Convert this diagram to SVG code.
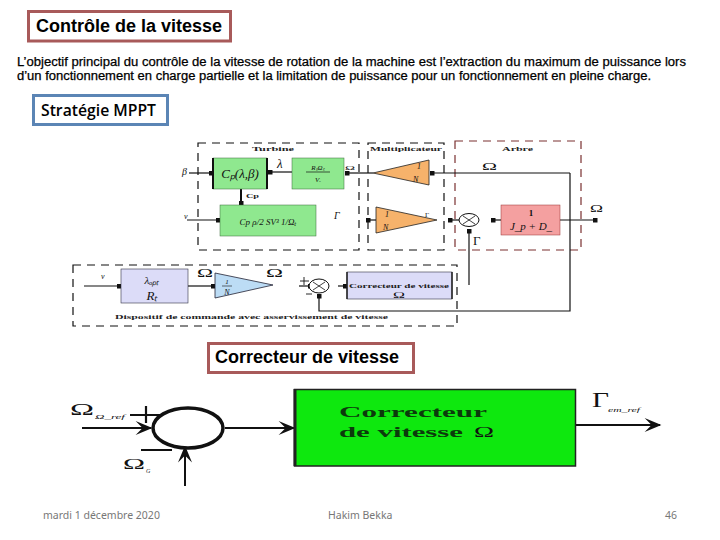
<svg xmlns="http://www.w3.org/2000/svg" width="720" height="540" viewBox="0 0 720 540">
<style>
.c{fill:none;stroke:#111;stroke-width:1.2}
.t{fill:none;stroke:#111;stroke-width:2}
.d{fill:none;stroke:#111;stroke-width:1.2;stroke-dasharray:8 6}
.dr{fill:none;stroke:#7a3030;stroke-width:1.2;stroke-dasharray:8 6}
.s{font-family:"Liberation Serif",serif;fill:#111}
.b{font-family:"Liberation Serif",serif;font-weight:bold;fill:#222;font-size:7px}
.i{font-style:italic}
.h{font-family:"Liberation Sans",Arial,sans-serif;font-weight:bold;fill:#000;font-size:18px}
.p{font-family:"Liberation Sans",Arial,sans-serif;fill:#000;stroke:#000;stroke-width:.25;font-size:12.300px}
.f{font-family:"Noto Sans",sans-serif;fill:#777;font-size:10.500px}
.g{fill:#8fe88f;stroke:#3a6a3a;stroke-width:.5}
.v{fill:#dcdcf8;stroke:#334;stroke-width:.6}
.o{fill:#f6b26b;stroke:#222;stroke-width:.8}
</style>
<defs>
<marker id="a" viewBox="0 0 10 10" refX="9" refY="5" markerWidth="5" markerHeight="5" markerUnits="userSpaceOnUse" orient="auto"><path d="M0 0H10V10H0Z" fill="#111"/></marker>
<marker id="b" viewBox="0 0 12 10" refX="11" refY="5" markerWidth="24" markerHeight="14" markerUnits="userSpaceOnUse" orient="auto"><path d="M0 0L12 5L0 10L5 5Z" fill="#111"/></marker>
</defs>
<rect width="720" height="540" fill="#fff"/>

<g id="title"><rect x="28.500" y="11.500" width="202" height="29.500" fill="#fff" stroke="#a85a5a" stroke-width="3"/><text class="h" x="36" y="32" textLength="186" lengthAdjust="spacingAndGlyphs">Contrôle de la vitesse</text></g>
<g id="intro"><text class="p" x="17" y="66" textLength="669" lengthAdjust="spacingAndGlyphs">L’objectif principal du contrôle de la vitesse de rotation de la machine est l’extraction du maximum de puissance lors</text><text class="p" x="17" y="80" textLength="634" lengthAdjust="spacingAndGlyphs">d’un fonctionnement en charge partielle et la limitation de puissance pour un fonctionnement en pleine charge.</text></g>
<g id="mppt"><rect x="33.500" y="95.500" width="134" height="29" fill="#fff" stroke="#5b85b5" stroke-width="3"/><text x="41" y="116" style="font-family:'Open Sans',sans-serif;font-weight:600;font-size:15.500px" fill="#000" textLength="115" lengthAdjust="spacingAndGlyphs">Stratégie MPPT</text></g>
<g id="correcteur-title"><rect x="208.500" y="343.500" width="205" height="29" fill="#fff" stroke="#a85a5a" stroke-width="3"/><text class="h" x="215" y="363" textLength="184" lengthAdjust="spacingAndGlyphs">Correcteur de vitesse</text></g>

<g id="zones">
<rect class="d" x="198" y="143" width="161" height="107"/><text class="b" x="252" y="151" textLength="42" lengthAdjust="spacingAndGlyphs">Turbine</text>
<rect class="d" x="368" y="143" width="76" height="107"/><text class="b" x="370" y="151" textLength="72" lengthAdjust="spacingAndGlyphs">Multiplicateur</text>
<rect class="dr" x="455" y="141" width="126" height="109"/><text class="b" x="502" y="151" textLength="31" lengthAdjust="spacingAndGlyphs">Arbre</text>
<rect class="d" x="73" y="265" width="384" height="61"/><text class="b" x="115" y="319" textLength="273" lengthAdjust="spacingAndGlyphs">Dispositif de commande avec asservissement de vitesse</text>
</g>

<g id="connectors">
<path class="c" d="M189 173H213" marker-end="url(#a)"/>
<path class="c" d="M292 172H268" marker-end="url(#a)"/>
<path class="c" d="M373 173H345" marker-end="url(#a)"/>
<path class="t" d="M241 189V205" marker-end="url(#a)"/>
<path class="c" d="M187 220H220" marker-end="url(#a)"/>
<path class="c" d="M570 173H430" marker-end="url(#a)"/>
<path class="c" d="M570 173V311H319V294" marker-end="url(#a)"/>
<path class="c" d="M501 220H491" marker-end="url(#a)"/>
<path class="c" d="M460 220H448" marker-end="url(#a)"/>
<path class="c" d="M376 220H366" marker-end="url(#a)"/>
<path class="c" d="M469 285V229" marker-end="url(#a)"/>
<path class="c" d="M560 220H597" marker-end="url(#a)"/>
<path class="c" d="M84 286H121" marker-end="url(#a)"/>
<path class="c" d="M188 286H215" marker-end="url(#a)"/>
<path class="c" d="M299 286H312" marker-end="url(#a)"/>
<path class="c" d="M338 286H347" marker-end="url(#a)"/>
<path class="t" d="M82 428H151" marker-end="url(#b)"/>
<path class="t" d="M225 428H294" marker-end="url(#b)"/>
<path class="t" d="M185 486V447" marker-end="url(#b)"/>
<path class="t" d="M575 425H660" marker-end="url(#b)"/>
</g>

<g id="turbine-cp"><rect class="g" x="213" y="158" width="54" height="31"/><path d="M213 158V189M267 158V189" stroke="#111" stroke-width="2"/><text class="s i" x="240" y="178" font-size="13" text-anchor="middle">Cₚ(λ,β)</text></g>
<g id="turbine-lambda"><rect class="g" x="292" y="158" width="52" height="31"/><path d="M306 172H330" stroke="#111" stroke-width=".7"/><text class="s i" x="318" y="170" font-size="7" text-anchor="middle">RₜΩₜ</text><text class="s i" x="318" y="182" font-size="7" text-anchor="middle">Vᵥ</text></g>
<g id="turbine-power"><rect class="g" x="220" y="205" width="96" height="31"/><text class="s i" x="268" y="225" font-size="9" text-anchor="middle">Cp ρ/2 SV³ 1/Ωₜ</text></g>
<g id="mult-top"><path class="o" d="M373 173L429 160V185Z"/><text class="s i" x="417" y="169" font-size="8">1</text><text class="s i" x="413" y="182" font-size="8">N</text></g>
<g id="mult-bottom"><path class="o" d="M376 207V233L437 220Z"/><text class="s i" x="385" y="217" font-size="8">1</text><text class="s i" x="383" y="230" font-size="8">N</text></g>
<g id="sum-arbre"><ellipse cx="469" cy="220" rx="10" ry="6.500" fill="#fff" stroke="#111"/><path d="M463 224L475 216M463 216L475 224" stroke="#111" stroke-width=".8"/></g>
<g id="arbre-block"><rect x="501" y="205" width="59" height="30" fill="#f4a0a0" stroke="#933" stroke-width=".5"/><text class="s" x="531" y="216" font-size="9" font-weight="bold" text-anchor="middle">1</text><text class="s i" x="531" y="230" font-size="11" text-anchor="middle">J_p + D_</text></g>
<g id="mppt-block"><rect class="v" x="121" y="269" width="67" height="34"/><text class="s i" x="152" y="284" font-size="11" text-anchor="middle">λₒₚₜ</text><text class="s i" x="152" y="300" font-size="13" text-anchor="middle">Rₜ</text></g>
<g id="gain"><path d="M215 273V298L273 285Z" fill="#bcdcf5" stroke="#223" stroke-width=".8"/><path d="M222 286H232" stroke="#111" stroke-width=".6"/><text class="s i" x="227" y="284" font-size="7" text-anchor="middle">1</text><text class="s i" x="227" y="295" font-size="8" text-anchor="middle">N</text></g>
<g id="sum-vitesse"><ellipse cx="319" cy="286" rx="10" ry="7" fill="#fff" stroke="#111"/><path d="M313 290L325 282M313 282L325 290" stroke="#111" stroke-width=".8"/></g>
<g id="corr-block"><rect class="v" x="347" y="272" width="105" height="27"/><path d="M347 272V299M452 272V299" stroke="#222" stroke-width="1.500"/><text class="b" x="349" y="288" font-size="7.500" textLength="100" lengthAdjust="spacingAndGlyphs">Correcteur de vitesse</text><text class="s" x="393" y="298" font-size="9" textLength="12" lengthAdjust="spacingAndGlyphs">Ω</text></g>

<g id="labels" class="s" font-size="10">
<text class="i" x="182" y="175">β</text><text x="277" y="168" font-size="13" class="i">λ</text><text x="345" y="170" font-size="7" textLength="10" lengthAdjust="spacingAndGlyphs">Ω</text>
<text class="b" x="246" y="198" font-size="8" textLength="13" lengthAdjust="spacingAndGlyphs">Cp</text><text x="184" y="219" font-size="8" class="i">v</text>
<text x="334" y="219" font-size="10" class="i">Γ</text><text x="425" y="217" font-size="7">Γ</text>
<text x="482" y="170" font-size="11" textLength="15" lengthAdjust="spacingAndGlyphs">Ω</text><text x="590" y="212" font-size="10" textLength="13" lengthAdjust="spacingAndGlyphs">Ω</text>
<text x="473" y="245" font-size="13">Γ</text><text x="101" y="279" font-size="8" class="i">v</text>
<text x="197" y="277" font-size="12" textLength="16" lengthAdjust="spacingAndGlyphs">Ω</text><text x="266" y="277" font-size="12" textLength="17" lengthAdjust="spacingAndGlyphs">Ω</text>
<path d="M300 281H309M304 277V285M306 294H312" stroke="#111" stroke-width=".9" fill="none"/>
</g>

<g id="sum-large"><ellipse cx="188" cy="428" rx="35" ry="20" fill="#fff" stroke="#111" stroke-width="3.500"/><path d="M130 415H160M146 406V423M141 450H172" stroke="#111" stroke-width="2.200" fill="none"/></g>
<g id="correcteur-block"><rect x="294.500" y="389.500" width="281" height="76.500" fill="#0ee80e" stroke="#222" stroke-width="1.500"/><path d="M295 389V466" stroke="#222" stroke-width="3"/><text x="339" y="417" style="font-family:'Liberation Serif',serif;font-weight:bold;font-size:15px" fill="#0c3a0c" textLength="148" lengthAdjust="spacingAndGlyphs">Correcteur</text><text x="339" y="437" style="font-family:'Liberation Serif',serif;font-weight:bold;font-size:15px" fill="#0c3a0c" textLength="124" lengthAdjust="spacingAndGlyphs">de vitesse</text><text x="474" y="437" class="s" font-size="14" fill="#0c3a0c" textLength="20" lengthAdjust="spacingAndGlyphs">Ω</text></g>
<g id="labels-large" class="s">
<text x="70" y="415" font-size="17" textLength="24" lengthAdjust="spacingAndGlyphs">Ω</text><text x="95" y="419" font-size="7" class="i" textLength="30" lengthAdjust="spacingAndGlyphs">Ω_ref</text>
<text x="123" y="469" font-size="15" textLength="22" lengthAdjust="spacingAndGlyphs">Ω</text><text x="146" y="473" font-size="6" class="i">G</text>
<text x="592" y="407" font-size="20" textLength="17" lengthAdjust="spacingAndGlyphs">Γ</text><text x="608" y="412" font-size="7" class="i" textLength="32" lengthAdjust="spacingAndGlyphs">em_ref</text>
</g>

<g id="footer"><text class="f" x="43" y="519">mardi 1 décembre 2020</text><text class="f" x="328" y="519">Hakim Bekka</text><text class="f" x="665" y="519">46</text></g>
</svg>
